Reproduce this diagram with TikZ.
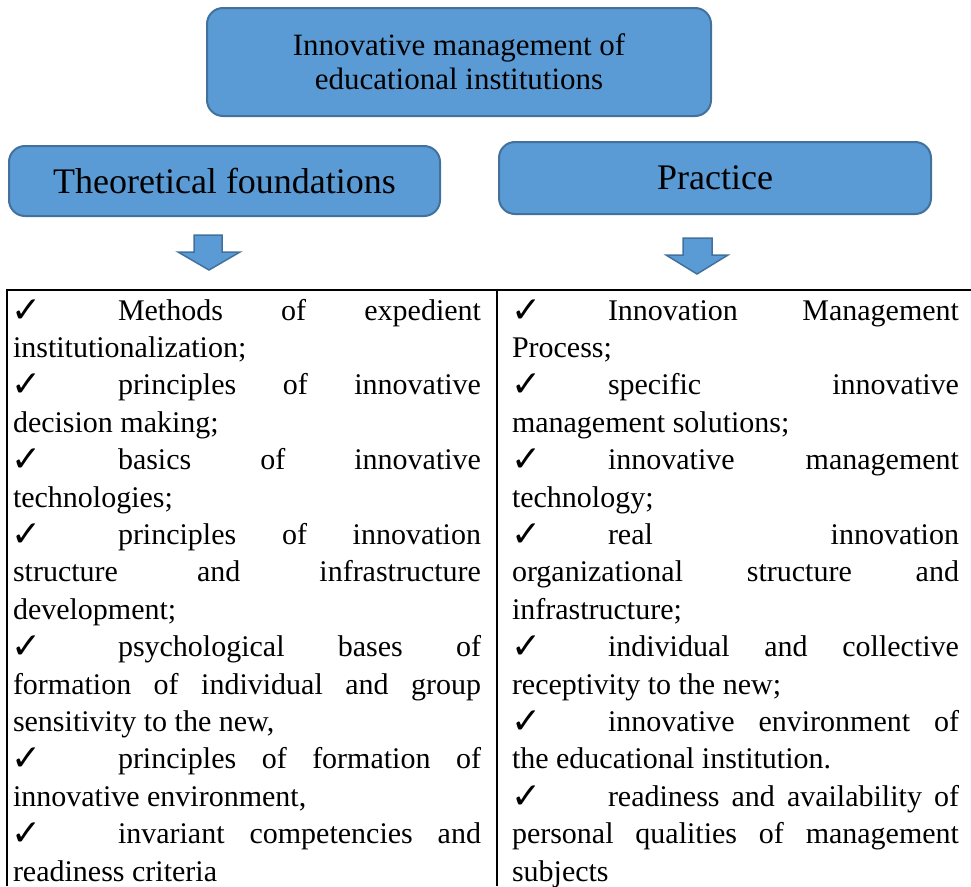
\documentclass[tikz,border=0pt]{standalone}
\usepackage{fontspec}
\setmainfont{Liberation Serif}
\newfontfamily\symfont{DejaVu Sans Bold}

\definecolor{boxfill}{RGB}{91,155,213}
\definecolor{boxline}{RGB}{65,113,156}

\newcommand\cellfont{\fontsize{30}{37.4}\selectfont}
\newcommand\tickfont{\symfont\fontsize{36}{36}\selectfont}
% a justified line of the given width
\newcommand\jst[2]{\makebox[#1][s]{#2}}
% the tick mark that opens each item
\newcommand\tickmark{✓}

\tikzset{
  bluebox/.style={draw=boxline, fill=boxfill, line width=2pt, rounded corners=16pt,
    inner sep=0pt, align=center, text=black},
  blockarrow/.style={draw=boxline, fill=boxfill, line width=1.5pt, line join=miter},
  rule/.style={draw=black, line width=2pt},
  cell/.style={anchor=base west, inner sep=0pt, outer sep=0pt, font=\cellfont},
  tick/.style={anchor=base west, inner sep=0pt, outer sep=0pt, font=\tickfont, yshift=-2pt},
}

\begin{document}
\begin{tikzpicture}[x=1pt, y=-1pt]
\useasboundingbox (0,0) rectangle (971,886);

% heading boxes
\node[bluebox, minimum width=504pt, minimum height=108pt,
      font=\fontsize{31}{34}\selectfont] (head) at (459,62)
      {Innovative management of\\educational institutions};
\node[bluebox, minimum width=431pt, minimum height=70pt,
      font=\fontsize{36}{40}\selectfont] (theory) at (224.5,181) {Theoretical foundations};
\node[bluebox, minimum width=432pt, minimum height=72pt,
      font=\fontsize{36}{40}\selectfont] (practice) at (715,178) {Practice};

% block arrows under the two columns
\draw[blockarrow] (194,235) -- (222,235) -- (222,252) -- (240,252) -- (209,270)
  -- (178,252) -- (194,252) -- cycle;
\draw[blockarrow] (683,238) -- (712,238) -- (712,255) -- (728,255) -- (697,274)
  -- (666,255) -- (683,255) -- cycle;

% table rules
\coordinate (tabNW) at (6,289.5);
\coordinate (tabNE) at (971,289.5);
\coordinate (tabSW) at (7,886);
\coordinate (midN) at (497,289.5);
\coordinate (midS) at (497,886);
\draw[rule] (tabNW) -- (tabNE);
\draw[rule] (7,288.5) -- (tabSW);
\draw[rule] (midN) -- (midS);

\begin{scope}[yshift=-1pt]
% left column
\node[tick] (lt1) at (12,319) {\tickmark};
\node[cell] (l1) at (118,319) {\jst{363pt}{Methods of expedient}};
\node[cell] (l2) at (13,356.4) {institutionalization;};
\node[tick] (lt3) at (12,393.8) {\tickmark};
\node[cell] (l3) at (118,393.8) {\jst{363pt}{principles of innovative}};
\node[cell] (l4) at (13,431.2) {decision making;};
\node[tick] (lt5) at (12,468.6) {\tickmark};
\node[cell] (l5) at (118,468.6) {\jst{363pt}{basics of innovative}};
\node[cell] (l6) at (13,506) {technologies;};
\node[tick] (lt7) at (12,543.4) {\tickmark};
\node[cell] (l7) at (118,543.4) {\jst{363pt}{principles of innovation}};
\node[cell] (l8) at (13,580.8) {\jst{468pt}{structure and infrastructure}};
\node[cell] (l9) at (13,618.2) {development;};
\node[tick] (lt10) at (12,655.6) {\tickmark};
\node[cell] (l10) at (118,655.6) {\jst{363pt}{psychological bases of}};
\node[cell] (l11) at (13,693) {\jst{468pt}{formation of individual and group}};
\node[cell] (l12) at (13,730.4) {sensitivity to the new,};
\node[tick] (lt13) at (12,767.8) {\tickmark};
\node[cell] (l13) at (118,767.8) {\jst{363pt}{principles of formation of}};
\node[cell] (l14) at (13,805.2) {innovative environment,};
\node[tick] (lt15) at (12,842.6) {\tickmark};
\node[cell] (l15) at (118,842.6) {\jst{363pt}{invariant competencies and}};
\node[cell] (l16) at (13,880) {readiness criteria};

% right column
\node[tick] (rt1) at (511,319) {\tickmark};
\node[cell] (r1) at (608,319) {\jst{351pt}{Innovation Management}};
\node[cell] (r2) at (512,356.4) {Process;};
\node[tick] (rt3) at (511,393.8) {\tickmark};
\node[cell] (r3) at (608,393.8) {\jst{351pt}{specific innovative}};
\node[cell] (r4) at (512,431.2) {management solutions;};
\node[tick] (rt5) at (511,468.6) {\tickmark};
\node[cell] (r5) at (608,468.6) {\jst{351pt}{innovative management}};
\node[cell] (r6) at (512,506) {technology;};
\node[tick] (rt7) at (511,543.4) {\tickmark};
\node[cell] (r7) at (608,543.4) {\jst{351pt}{real innovation}};
\node[cell] (r8) at (512,580.8) {\jst{447pt}{organizational structure and}};
\node[cell] (r9) at (512,618.2) {infrastructure;};
\node[tick] (rt10) at (511,655.6) {\tickmark};
\node[cell] (r10) at (608,655.6) {\jst{351pt}{individual and collective}};
\node[cell] (r11) at (512,693) {receptivity to the new;};
\node[tick] (rt12) at (511,730.4) {\tickmark};
\node[cell] (r12) at (608,730.4) {\jst{351pt}{innovative environment of}};
\node[cell] (r13) at (512,767.8) {the educational institution.};
\node[tick] (rt14) at (511,805.2) {\tickmark};
\node[cell] (r14) at (608,805.2) {\jst{351pt}{readiness and availability of}};
\node[cell] (r15) at (512,842.6) {\jst{447pt}{personal qualities of management}};
\node[cell] (r16) at (512,880) {subjects};
\end{scope}
\end{tikzpicture}
\end{document}
